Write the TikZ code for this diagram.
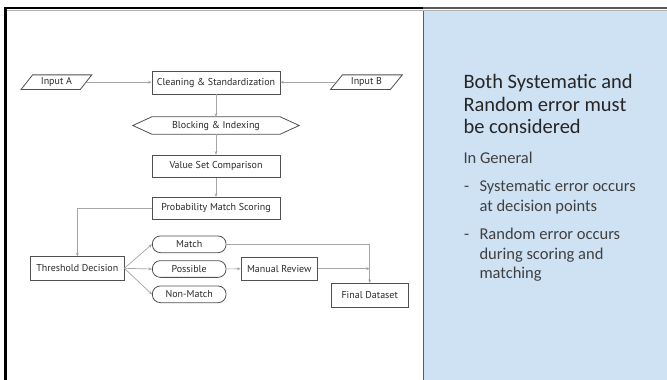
\documentclass[tikz,border=0pt]{standalone}
\usepackage{fontspec}
\setmainfont{Carlito}
\newfontfamily\flowfont{PT Sans}
\usetikzlibrary{arrows.meta}

\definecolor{panel}{HTML}{CFE2F3}
\definecolor{panelline}{HTML}{2E64A8}
\definecolor{boxline}{HTML}{505050}
\definecolor{conn}{HTML}{A6A6A6}
\definecolor{ink}{HTML}{2A2A2A}
\definecolor{heading}{HTML}{262626}
\definecolor{bodyink}{HTML}{404040}

\begin{document}
\begin{tikzpicture}[x=1pt,y=-1pt,
  flow/.style={font=\flowfont\fontsize{10}{12}\selectfont, text=ink, inner sep=0pt},
  procbox/.style={flow, draw=boxline, line width=0.8pt},
  termbox/.style={flow, draw=boxline, line width=0.8pt, rounded corners=8pt,
    minimum width=73.7pt, minimum height=16.7pt},
  shapeline/.style={draw=boxline, line width=0.8pt},
  link/.style={draw=conn, line width=0.7pt},
  arr/.style={link, -{Stealth[length=3.5pt,width=3pt]}},
  title/.style={anchor=base west, inner sep=0pt, text=heading,
    font=\fontsize{20.5}{22.7}\selectfont},
  body/.style={anchor=base west, inner sep=0pt, text=bodyink,
    font=\fontsize{16.5}{19.5}\selectfont}
]
\useasboundingbox (0,0) rectangle (667,380);
\fill[white] (0,0) rectangle (667,380);

% side panel and frame
\fill[panel] (423,10.5) rectangle (667,380);
\draw[panelline, line width=1pt] (423,10.5) -- (423,380);
\draw[gray!60, line width=1.2pt] (6.7,10.2) -- (667,10.2);
\draw[black, line width=2.4pt] (4,8.2) -- (423,8.2);
\draw[black!65, line width=2.4pt] (423,8.2) -- (667,8.2);
\draw[black, line width=2.7pt] (5.3,7) -- (5.3,380);

% flowchart nodes
\node[flow, minimum width=58.8pt, minimum height=14.3pt] (inA) at (56.4,82.2) {Input A};
\draw[shapeline] ([xshift=-5.8pt]inA.south west) -- ([xshift=5.8pt]inA.north west)
  -- ([xshift=5.8pt]inA.north east) -- ([xshift=-5.8pt]inA.south east) -- cycle;

\node[flow, minimum width=59.5pt, minimum height=14.3pt] (inB) at (366.4,82.2) {Input B};
\draw[shapeline] ([xshift=-6pt]inB.south west) -- ([xshift=6pt]inB.north west)
  -- ([xshift=6pt]inB.north east) -- ([xshift=-6pt]inB.south east) -- cycle;

\node[procbox, minimum width=128pt, minimum height=22.3pt] (clean) at (216,82.9) {Cleaning \& Standardization};

\node[flow, minimum width=128pt, minimum height=17pt] (block) at (216,125.5) {Blocking \& Indexing};
\draw[shapeline] ([xshift=-19pt]block.west) -- (block.north west) -- (block.north east)
  -- ([xshift=19pt]block.east) -- (block.south east) -- (block.south west) -- cycle;

\node[procbox, minimum width=128pt, minimum height=22.3pt] (value) at (216,166.2) {Value Set Comparison};
\node[procbox, minimum width=128pt, minimum height=22pt] (prob) at (216,208.3) {Probability Match Scoring};
\node[procbox, minimum width=93.3pt, minimum height=23.3pt] (thresh) at (77.3,268.3) {Threshold Decision};

\node[termbox] (match) at (189.2,244.3) {Match};
\node[termbox] (possible) at (189.2,269) {Possible};
\node[termbox] (nonmatch) at (189.2,294.3) {Non-Match};

\node[procbox, minimum width=76.7pt, minimum height=22.7pt] (review) at (279.3,268.7) {Manual Review};
\node[procbox, minimum width=77.3pt, minimum height=24.4pt] (final) at (369.7,295.5) {Final Dataset};
\coordinate (join) at (final.north |- review.east);

% connectors
\draw[arr] (inA.east) -- (inA.east -| clean.west);
\draw[arr] (inB.west) -- (inB.west -| clean.east);
\draw[arr] (clean) -- (block);
\draw[arr] (block) -- (value);
\draw[arr] (value) -- (prob);
\draw[arr] (prob.west) -| (thresh.north);
\draw[arr] (thresh.east) -- (match.west);
\draw[arr] (thresh.east) -- (possible.west);
\draw[arr] (thresh.east) -- (nonmatch.west);
\draw[arr] (possible) -- (review);
\draw[arr] (match.east) -| (final.north);
\draw[arr] (review.east) -- (join);

% panel text
\node[title] (t1) at (463.3,88.3) {Both Systematic and};
\node[title] (t2) at (463.3,111.2) {Random error must};
\node[title] (t3) at (463.3,133.6) {be considered};
\node[body] (g0) at (463.3,163.3) {In General};
\node[body] (d1) at (464,191.7) {-};
\node[body] (b1a) at (479.3,191.7) {Systematic error occurs};
\node[body] (b1b) at (479.3,211) {at decision points};
\node[body] (d2) at (464,239.3) {-};
\node[body] (b2a) at (479.3,239.3) {Random error occurs};
\node[body] (b2b) at (479.3,259) {during scoring and};
\node[body] (b2c) at (479.3,278.3) {matching};
\end{tikzpicture}
\end{document}
